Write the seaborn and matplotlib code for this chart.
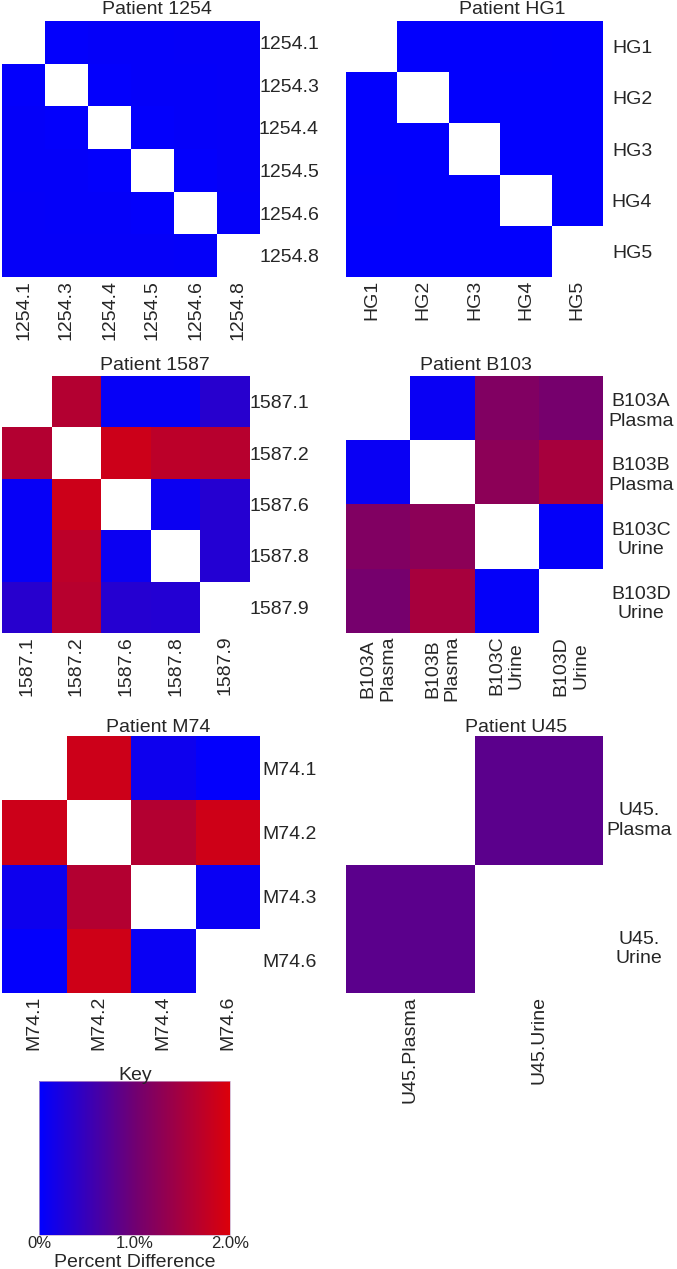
import numpy as np
import pandas as pd
import matplotlib
matplotlib.use("Agg")
import matplotlib.pyplot as plt
import matplotlib.transforms as mtransforms
import seaborn as sns
from matplotlib.colors import LinearSegmentedColormap, Normalize
from matplotlib.cm import ScalarMappable

n = np.nan

# ---------------- data (percent difference) ----------------
rows_1254 = ["1254.1", "1254.3", "1254.4", "1254.5", "1254.6", "1254.8"]
cols_1254 = ["1254.1", "1254.3", "1254.4", "1254.5", "1254.6", "1254.8"]
vals_1254 = [
    [n, 0.03, 0.04, 0.04, 0.05, 0.05],
    [0.03, n, 0.03, 0.04, 0.04, 0.05],
    [0.04, 0.03, n, 0.03, 0.04, 0.05],
    [0.04, 0.04, 0.03, n, 0.03, 0.05],
    [0.05, 0.04, 0.04, 0.03, n, 0.04],
    [0.05, 0.05, 0.05, 0.05, 0.04, n],
]

rows_hg1 = ["HG1", "HG2", "HG3", "HG4", "HG5"]
cols_hg1 = ["HG1", "HG2", "HG3", "HG4", "HG5"]
vals_hg1 = [
    [n, 0.02, 0.02, 0.03, 0.02],
    [0.02, n, 0.02, 0.02, 0.02],
    [0.02, 0.02, n, 0.02, 0.02],
    [0.03, 0.02, 0.02, n, 0.02],
    [0.02, 0.02, 0.02, 0.02, n],
]

rows_1587 = ["1587.1", "1587.2", "1587.6", "1587.8", "1587.9"]
cols_1587 = ["1587.1", "1587.2", "1587.6", "1587.8", "1587.9"]
vals_1587 = [
    [n, 1.62, 0.06, 0.06, 0.35],
    [1.62, n, 1.85, 1.70, 1.65],
    [0.06, 1.85, n, 0.10, 0.33],
    [0.06, 1.70, 0.10, n, 0.32],
    [0.35, 1.65, 0.33, 0.32, n],
]

rows_b103 = ["B103A\nPlasma", "B103B\nPlasma", "B103C\nUrine", "B103D\nUrine"]
cols_b103 = ["B103A\nPlasma", "B103B\nPlasma", "B103C\nUrine", "B103D\nUrine"]
vals_b103 = [
    [n, 0.08, 1.15, 1.05],
    [0.08, n, 1.25, 1.50],
    [1.15, 1.25, n, 0.04],
    [1.05, 1.50, 0.04, n],
]

rows_m74 = ["M74.1", "M74.2", "M74.3", "M74.6"]
cols_m74 = ["M74.1", "M74.2", "M74.4", "M74.6"]
vals_m74 = [
    [n, 1.85, 0.12, 0.03],
    [1.85, n, 1.62, 1.87],
    [0.12, 1.62, n, 0.08],
    [0.03, 1.87, 0.08, n],
]

rows_u45 = ["U45.\nPlasma", "U45.\nUrine"]
cols_u45 = ["U45.Plasma", "U45.Urine"]
vals_u45 = [
    [n, 0.82],
    [0.82, n],
]

titles = ["Patient 1254", "Patient HG1", "Patient 1587",
          "Patient B103", "Patient M74", "Patient U45"]
key_ticks = [0, 1, 2]
key_ticklabels = ["0%", "1.0%", "2.0%"]

# ---------------- style ----------------
sns.set_style("white")
plt.rcParams["font.family"] = ["Liberation Sans", "DejaVu Sans"]

W, H = 677, 1269
fig = plt.figure(figsize=(W / 100, H / 100), dpi=100)


def px_axes(x0, y0, x1, y1):
    return fig.add_axes([x0 / W, 1 - y1 / H, (x1 - x0) / W, (y1 - y0) / H])


cmap = LinearSegmentedColormap.from_list(
    "key", [(0.0, "#0000FF"), (0.5, "#700072"), (1.0, "#DC000A")])

# box: heatmap pixel box; tpos: title centre; ypad: row-label centre offset (px);
# yshift: vertical shift of row labels (px, positive = down)
panels = [
    (rows_1254, cols_1254, vals_1254, (2, 21, 260, 277), (157, 10), 29, 0),
    (rows_hg1, cols_hg1, vals_hg1, (346, 21, 603, 277), (512, 10), 29, 0),
    (rows_1587, cols_1587, vals_1587, (2, 376, 250, 633), (155, 366), 29, 0),
    (rows_b103, cols_b103, vals_b103, (346, 376, 603, 633), (476, 366), 38, 0),
    (rows_m74, cols_m74, vals_m74, (2, 736, 260, 993), (158, 727), 30, 0),
    (rows_u45, cols_u45, vals_u45, (346, 736, 603, 993), (516, 727), 36, 17),
]

for title, (rows, cols, vals, box, tpos, ypad, yshift) in zip(titles, panels):
    ax = px_axes(*box)
    df = pd.DataFrame(vals, index=rows, columns=cols)
    sns.heatmap(df, ax=ax, cmap=cmap, vmin=0, vmax=2, cbar=False)
    ax.yaxis.tick_right()
    ax.tick_params(axis="both", length=0, labelsize=14)
    ax.tick_params(axis="y", pad=ypad * 0.72, labelrotation=0,
                   labelleft=False, labelright=True)
    ax.tick_params(axis="x", pad=2, labelrotation=90)
    ax.set_xlabel("")
    ax.set_ylabel("")
    off = mtransforms.ScaledTranslation(0, -yshift / 100, fig.dpi_scale_trans)
    for t in ax.get_yticklabels():
        t.set_horizontalalignment("center")
        t.set_multialignment("center")
        t.set_transform(t.get_transform() + off)
    for t in ax.get_xticklabels():
        t.set_multialignment("center")
    fig.text(tpos[0] / W, 1 - tpos[1] / H, title, ha="center", va="center",
             fontsize=14)

# ---------------- key ----------------
cax = px_axes(39, 1081, 230, 1235)
cb = fig.colorbar(ScalarMappable(norm=Normalize(0, 2), cmap=cmap), cax=cax,
                  orientation="horizontal")
cb.set_ticks(key_ticks)
cb.set_ticklabels(key_ticklabels)
cb.ax.tick_params(length=0, labelsize=12, pad=1)
cb.outline.set_linewidth(0.5)
cb.outline.set_edgecolor("#c8a8c8")
cb.set_label("Percent Difference", fontsize=14, labelpad=2)
fig.text(135 / W, 1 - 1075 / H, "Key", ha="center", va="center", fontsize=14)

fig.savefig("out.png", dpi=100)
